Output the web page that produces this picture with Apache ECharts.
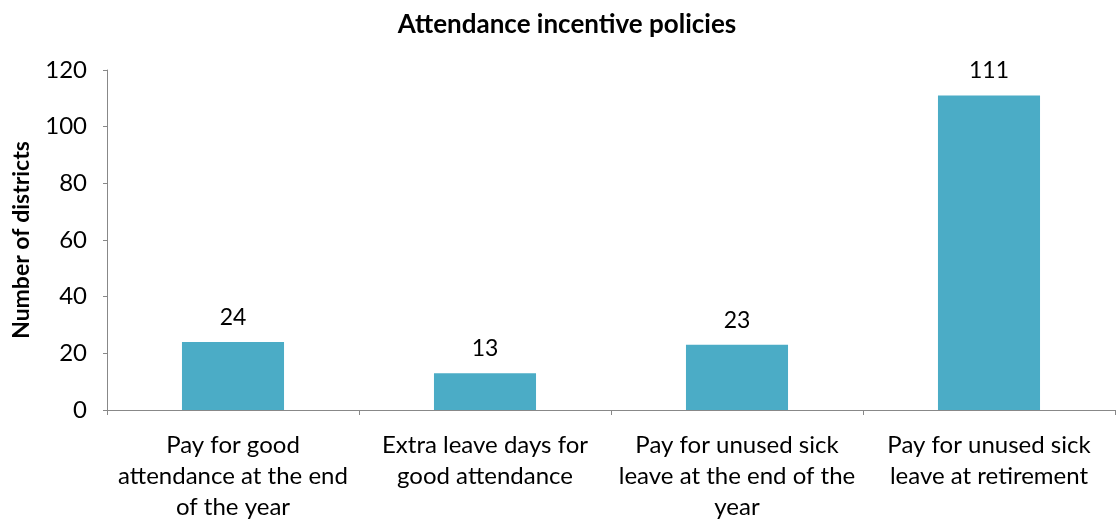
<!DOCTYPE html>
<html><head><meta charset="utf-8">
<script src="https://cdn.jsdelivr.net/npm/echarts@6/dist/echarts.min.js"></script>
<style>html,body{margin:0;padding:0;background:#fff}#c{width:1117px;height:523px}</style>
</head><body><div id="c"></div>
<script>
const categories = [
  "Pay for good\nattendance at the end\nof the year",
  "Extra leave days for\ngood attendance",
  "Pay for unused sick\nleave at the end of the\nyear",
  "Pay for unused sick\nleave at retirement"
];
const values = [24, 13, 23, 111];
const yTicks = { min: 0, max: 120, interval: 20 };
const FONT = "Lato, 'Open Sans', sans-serif";
const chart = echarts.init(document.getElementById('c'));
chart.setOption({
  animation: false,
  title: { text: 'Attendance incentive policies', left: 562, top: 7, textAlign: 'center',
    textStyle: { fontFamily: FONT, fontSize: 26, fontWeight: 'bold', color: '#000' } },
  grid: { left: 107, right: 2, top: 70, bottom: 110 },
  xAxis: {
    type: 'category', data: categories,
    axisLine: { lineStyle: { color: '#888', width: 1 } },
    axisTick: { show: true, alignWithLabel: false, length: 5, lineStyle: { color: '#888' } },
    axisLabel: { fontFamily: FONT, fontSize: 24, color: '#000', lineHeight: 31, margin: 20, interval: 0 }
  },
  yAxis: {
    type: 'value', min: yTicks.min, max: yTicks.max, interval: yTicks.interval,
    name: 'Number of districts', nameLocation: 'middle', nameGap: 74, nameRotate: 90,
    nameTextStyle: { fontFamily: FONT, fontSize: 23, fontWeight: 'bold', color: '#000' },
    axisLine: { show: true, lineStyle: { color: '#888' } },
    axisTick: { show: true, length: 4, lineStyle: { color: '#888' } },
    splitLine: { show: false },
    axisLabel: { fontFamily: FONT, fontSize: 24, color: '#000', margin: 20 }
  },
  series: [{
    type: 'bar', data: values, barWidth: '40.5%',
    itemStyle: { color: '#4BACC6' },
    label: { show: true, position: 'top', distance: 13, fontFamily: FONT, fontSize: 23, color: '#000' }
  }]
});
</script></body></html>
